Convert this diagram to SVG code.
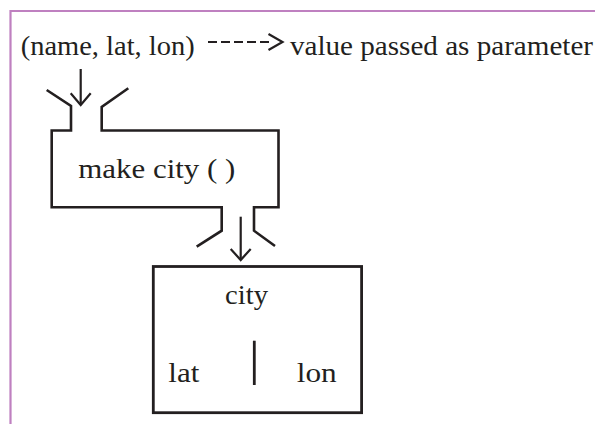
<svg xmlns="http://www.w3.org/2000/svg" width="595" height="424" viewBox="0 0 595 424">
<style>
.t{font-family:"Liberation Serif","Times New Roman",serif;font-size:27px;fill:#231F20}
.ln{fill:none;stroke:#231F20;stroke-width:2.6;stroke-linejoin:miter;stroke-linecap:butt}
.ar{fill:none;stroke:#231F20;stroke-width:2.2}
</style>
<rect x="0" y="0" width="595" height="424" fill="#FFFFFF"/>
<g id="frame">
<path d="M10.5,424 L10.5,11 L595,11" fill="none" stroke="#BF80C0" stroke-width="2.2"/>
</g>
<g id="legend">
<text class="t" x="20.7" y="55" textLength="174" lengthAdjust="spacingAndGlyphs">(name, lat, lon)</text>
<text class="t" x="290" y="55" textLength="303" lengthAdjust="spacingAndGlyphs">value passed as parameter</text>
</g>
<g id="connectors">
<line class="ar" x1="208" y1="42" x2="269" y2="42" stroke-dasharray="9 4"/>
<polyline class="ar" points="268.5,34 282.5,42 268.5,50" stroke-width="3"/>
<line class="ar" x1="80.7" y1="69" x2="80.7" y2="104"/>
<polyline class="ar" points="70.7,93.3 80.7,105 90.7,93.3"/>
<line class="ar" x1="240.7" y1="216.7" x2="240.7" y2="259"/>
<polyline class="ar" points="230.7,249 240.7,260 250.7,249"/>
</g>
<g id="make-city">
<path class="ln" d="M46.7,90 L71,106 L71,130.5 L51.7,130.5 L51.7,207.3 L221.7,207.3 L221.7,230.7 L196.7,246.7"/>
<path class="ln" d="M128.3,88.3 L101.7,107 L101.7,130.5 L278.5,130.5 L278.5,207.3 L254,207.3 L254,230.7 L275,246"/>
<text class="t" x="78.3" y="178.3" textLength="157" lengthAdjust="spacingAndGlyphs">make city ( )</text>
</g>
<g id="city">
<rect x="153.3" y="266.5" width="208.3" height="146.2" fill="none" stroke="#231F20" stroke-width="2.8"/>
<text class="t" x="225" y="303.5" textLength="43" lengthAdjust="spacingAndGlyphs">city</text>
<line x1="254.3" y1="340.7" x2="254.3" y2="385" stroke="#231F20" stroke-width="2.8"/>
<text class="t" x="168.3" y="381.7" textLength="31" lengthAdjust="spacingAndGlyphs">lat</text>
<text class="t" x="296.7" y="381.7" textLength="40" lengthAdjust="spacingAndGlyphs">lon</text>
</g>
</svg>
